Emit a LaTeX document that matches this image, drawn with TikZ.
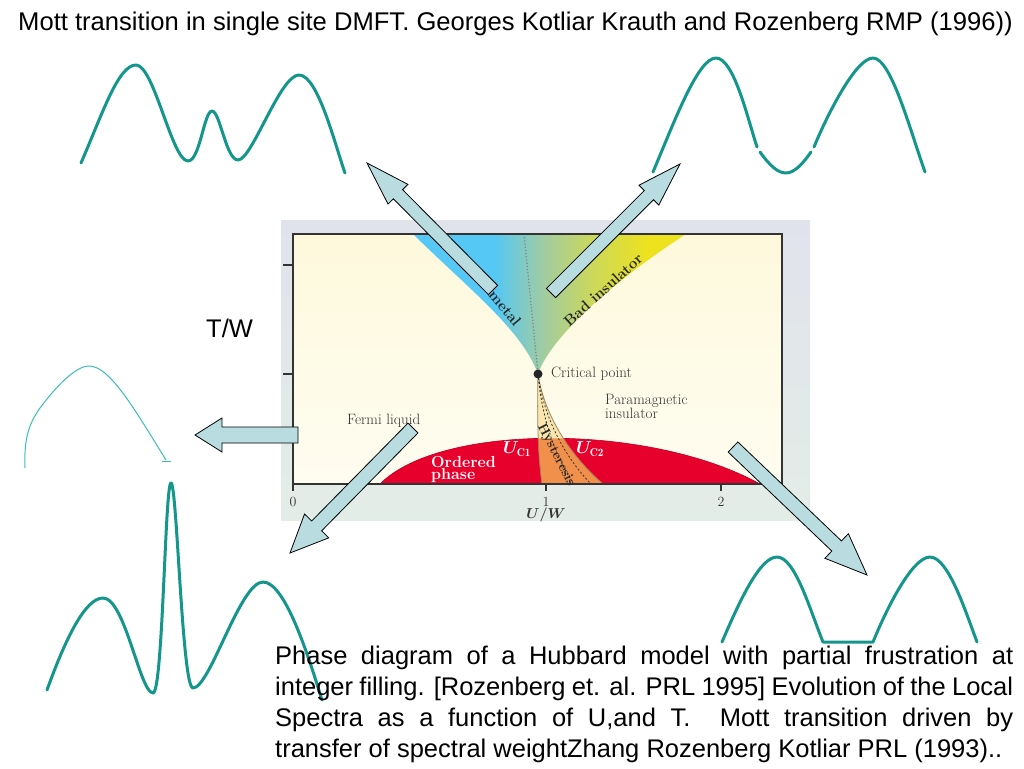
\documentclass[tikz,border=0pt]{standalone}
\usepackage{fontspec}
\usepackage{amsmath,amssymb}
\usepackage{bm}
\usetikzlibrary{calc}
\newfontfamily\arial{Liberation Sans}
\definecolor{spec}{HTML}{14968C}
\definecolor{speclight}{HTML}{3CBCBC}
\definecolor{arrowfill}{HTML}{B8DCE0}
\definecolor{metalblue}{HTML}{55C8F5}
\definecolor{midgreen}{HTML}{A2CCA0}
\definecolor{badyellow}{HTML}{EEE21E}
\definecolor{ordred}{HTML}{E8002C}
\definecolor{hystcream}{HTML}{F8E6AE}
\definecolor{hystorange}{HTML}{F0904A}
\definecolor{paneltop}{HTML}{E1E3EC}
\definecolor{panelbot}{HTML}{E3EDE7}
\definecolor{cream}{HTML}{FEF9DC}
\pgfdeclarehorizontalshading{wedgeshade}{100bp}{color(0bp)=(metalblue); color(25bp)=(metalblue);
  color(40bp)=(metalblue); color(49bp)=(midgreen); color(58bp)=(badyellow!55!midgreen);
  color(68bp)=(badyellow); color(100bp)=(badyellow)}
% fat arrow: tail, tip, shaft half width, head half width, head length
\newcommand{\fatarrow}[5]{%
  \path ($(#2)!#5!(#1)$) coordinate (hb);
  \draw[arrowbody] ($(#1)!#3!90:(#2)$) -- ($(hb)!#3!-90:(#1)$) -- ($(hb)!#4!-90:(#1)$)
    -- (#2) -- ($(hb)!#4!90:(#1)$) -- ($(hb)!#3!90:(#1)$) -- ($(#1)!#3!-90:(#2)$) -- cycle;
}
\begin{document}
\begin{tikzpicture}[x=1pt,y=-1pt,
  spectrum/.style={draw=spec,line width=3pt,line cap=round,line join=round},
  arrowbody/.style={draw=black,fill=arrowfill,line width=0.8pt,line join=miter},
  diag/.style={font=\fontsize{15}{16}\selectfont,text=black!80,inner sep=0pt},
  bigtext/.style={font=\arial\fontsize{25.5}{31}\selectfont,inner sep=0pt}]
\useasboundingbox (0,0) rectangle (1024,768);
\fill[white] (0,0) rectangle (1024,768);
% \draw[help lines] (0,0) grid[step=50] (1024,768);
%
% phase diagram panel
\shade[top color=paneltop,bottom color=panelbot] (281,220) rectangle (810,520);
\shade[top color=cream,bottom color=cream!40!white] (293,234) rectangle (782,484);
\coordinate (cp) at (538,374);
\shade[shading=wedgeshade]
  (413,234) .. controls (470,290) and (522,330) .. (cp)
  .. controls (550,338) and (612,282) .. (686,234) -- cycle;
\draw[gray,dotted,line width=1.2pt] (524,234) -- (cp);
\path[fill=ordred,draw=ordred!80!black,line width=0.6pt] (380,484) .. controls (440,423) and (650,423) .. (760,484) -- cycle;
\path[fill=hystcream] (cp) .. controls (537,420) and (538,455) .. (542,484) -- (603,484) .. controls (575,460) and (545,420) .. (cp) -- cycle;
\begin{scope}
\clip (380,484) .. controls (440,423) and (650,423) .. (760,484) -- cycle;
\fill[hystorange] (cp) .. controls (537,420) and (538,455) .. (542,484) -- (603,484) .. controls (575,460) and (545,420) .. (cp) -- cycle;
\end{scope}
\draw[brown!60!gray,line width=0.8pt] (cp) .. controls (537,420) and (538,455) .. (542,484);
\draw[brown!60!gray,line width=0.8pt] (cp) .. controls (545,420) and (575,460) .. (603,484);
\draw[black!80,dashed,line width=0.8pt,dash pattern=on 2pt off 2pt] (cp) .. controls (542,420) and (556,458) .. (574,484);
\draw[black!80,dashed,line width=0.8pt,dash pattern=on 2pt off 2pt] (cp) .. controls (544,420) and (566,458) .. (591,484);
\fill[black!85] (cp) circle (4.5);
\draw[black!80,line width=1.8pt] (293,234) rectangle (782,484);
\draw[black!80,line width=1.5pt] (283,265) -- (293,265) (283,374) -- (293,374)
  (293,484) -- (293,491) (546,484) -- (546,491) (721,484) -- (721,491);
%
\node (critical) [diag,anchor=west] at (551,374) {Critical point};
\node (para) [diag,anchor=north west,align=left,font=\fontsize{15}{12.5}\selectfont] at (605,394) {Paramagnetic\\insulator};
\node (fermi) [diag,anchor=west] at (347,421) {Fermi liquid};
\node (metal) [diag,text=black!85,font=\bfseries\fontsize{15}{16}\selectfont,rotate=-50] at (505,308) {metal};
\node (bad) [diag,text=black!85,font=\bfseries\fontsize{15}{16}\selectfont,rotate=42] at (603,290) {Bad insulator};
\node (hyst) [diag,text=black!85,font=\bfseries\fontsize{13.5}{14}\selectfont,rotate=-63] at (556,455) {Hysteresis};
\node (ordered) [diag,anchor=west,align=left,text=white,font=\bfseries\fontsize{16}{12}\selectfont] at (431,469) {Ordered\\phase};
\node (uc1) [diag,text=white,font=\fontsize{16}{16}\selectfont] at (517,449) {$\bm{U}_{\mathbf{C1}}$};
\node (uc2) [diag,text=white,font=\fontsize{16}{16}\selectfont] at (590,449) {$\bm{U}_{\mathbf{C2}}$};
\node (x0) [diag,font=\fontsize{14}{14}\selectfont] at (293,502) {0};
\node (x1) [diag,font=\fontsize{14}{14}\selectfont] at (546,502) {1};
\node (x2) [diag,font=\fontsize{14}{14}\selectfont] at (721,502) {2};
\node (uw) [diag,font=\fontsize{14}{14}\selectfont] at (546,515) {$\bm{U/W}$};
%
% texts
\node (title) [anchor=base west,inner sep=0pt,font=\arial\fontsize{25.6}{30}\selectfont] at (18,31)
  {Mott transition in single site DMFT. Georges Kotliar Krauth and Rozenberg RMP (1996))};
\node (tw) [anchor=base west,inner sep=0pt,font=\arial\fontsize{25.5}{30}\selectfont] at (206,337) {T/W};
%
% local spectra
\draw[spectrum] (81,163) .. controls (102,115) and (118,65) .. (136,65)
  .. controls (154,65) and (172,161) .. (188,161)
  .. controls (200,161) and (204,111) .. (212,111)
  .. controls (220,111) and (226,160) .. (238,160)
  .. controls (252,160) and (280,75) .. (299,75)
  .. controls (318,75) and (335,145) .. (345,173);
\draw[spectrum] (653,172) .. controls (675,120) and (698,58) .. (716,58)
  .. controls (734,58) and (748,120) .. (757,147);
\draw[spectrum] (760,152) .. controls (770,166) and (778,173) .. (786,173)
  .. controls (795,173) and (804,162) .. (811,152);
\draw[spectrum] (814,147) .. controls (825,120) and (855,58) .. (873,58)
  .. controls (891,58) and (910,130) .. (925,172);
\draw[speclight,line width=1pt] (25,468) .. controls (24,440) and (28,425) .. (40,408)
  .. controls (55,388) and (75,366) .. (89,366)
  .. controls (110,366) and (135,410) .. (166,460);
\draw[speclight,line width=1pt] (162,461) -- (171,461);
\draw[spectrum] (47,690) .. controls (65,640) and (85,598) .. (103,598)
  .. controls (125,598) and (140,693) .. (153,693)
  .. controls (163,693) and (165,483) .. (171,483)
  .. controls (177,483) and (182,688) .. (193,688)
  .. controls (210,688) and (240,582) .. (263,582)
  .. controls (285,582) and (308,655) .. (322,700);
\draw[spectrum] (722,642) .. controls (740,600) and (760,557) .. (777,557)
  .. controls (795,557) and (810,610) .. (823,642) -- (873,642)
  .. controls (886,610) and (912,557) .. (930,557)
  .. controls (948,557) and (965,610) .. (977,642);
%
% arrows to the spectra
\coordinate (metalTail) at (493,290);
\coordinate (metalTip) at (367,163);
\coordinate (badTail) at (551,293);
\coordinate (badTip) at (680,164);
\coordinate (fermiTail) at (298,435);
\coordinate (fermiTip) at (195,435);
\coordinate (orderTail) at (413,428);
\coordinate (orderTip) at (290,553);
\coordinate (paraTail) at (733,447);
\coordinate (paraTip) at (867,575);
\fatarrow{metalTail}{metalTip}{6.5pt}{14pt}{44pt}
\fatarrow{badTail}{badTip}{6.5pt}{14pt}{44pt}
\fatarrow{fermiTail}{fermiTip}{8pt}{17pt}{27pt}
\fatarrow{orderTail}{orderTip}{7pt}{17pt}{38pt}
\fatarrow{paraTail}{paraTip}{7pt}{17pt}{42pt}
%
\node (caption) [bigtext,anchor=north west,text width=738pt,align=justify] at (275,646)
  {Phase diagram of a Hubbard model with partial frustration at\linebreak
   integer filling. [Rozenberg et. al. PRL 1995] Evolution of the Local\linebreak
   Spectra as a function of U,and T.\ \ Mott transition driven by\linebreak
   transfer of spectral weightZhang Rozenberg Kotliar PRL (1993)..};
\end{tikzpicture}
\end{document}
